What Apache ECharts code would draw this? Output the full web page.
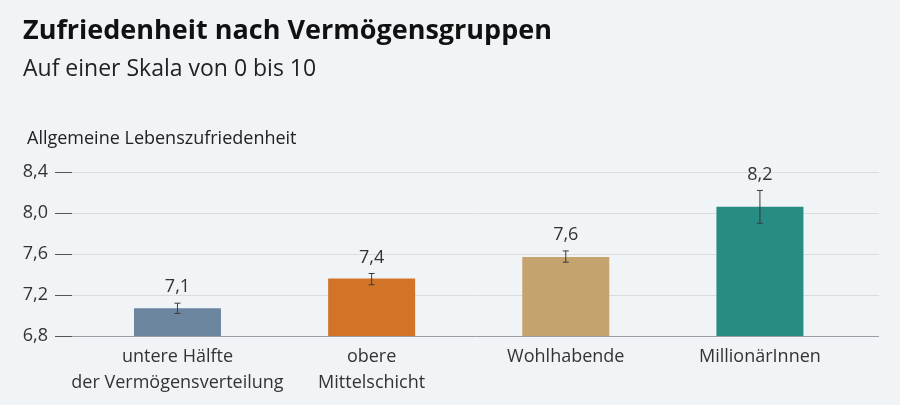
<!DOCTYPE html>
<html>
<head>
<meta charset="utf-8">
<script src="https://cdn.jsdelivr.net/npm/echarts@6/dist/echarts.min.js"></script>
<style>
html,body{margin:0;padding:0;background:#f1f4f6;}
#chart{width:900px;height:405px;}
</style>
</head>
<body>
<div id="chart"></div>
<script>
var categories = ['untere Hälfte\nder Vermögensverteilung', 'obere\nMittelschicht', 'Wohlhabende', 'MillionärInnen'];
var values = [7.07, 7.36, 7.57, 8.06];
var errLow = [7.02, 7.30, 7.52, 7.90];
var errHigh = [7.12, 7.41, 7.63, 8.22];
var valueLabels = ['7,1', '7,4', '7,6', '8,2'];
var barColors = ['#6d869f', '#d27428', '#c5a36f', '#278c84'];
var yMin = 6.8, yMax = 8.4, yInterval = 0.4;

var FONT = '"Open Sans", "Noto Sans", sans-serif';
var chart = echarts.init(document.getElementById('chart'), null, {renderer: 'canvas'});

var errData = categories.map(function (c, i) { return [i, errLow[i], errHigh[i]]; });

var option = {
  backgroundColor: '#f1f4f6',
  animation: false,
  title: [{
    text: 'Zufriedenheit nach Vermögensgruppen',
    left: 18, top: 13,
    textStyle: {fontFamily: FONT, fontWeight: 'bold', fontSize: 27, color: '#111'}
  }, {
    text: 'Auf einer Skala von 0 bis 10',
    left: 18, top: 53,
    textStyle: {fontFamily: FONT, fontWeight: 'normal', fontSize: 23, color: '#222'}
  }, {
    text: 'Allgemeine Lebenszufriedenheit',
    left: 22, top: 125,
    textStyle: {fontFamily: FONT, fontWeight: 'normal', fontSize: 18, color: '#222'}
  }],
  grid: [
    {left: 72, right: 21, top: 172, bottom: 69},
    {left: 80.4, right: 43, top: 172, bottom: 69}
  ],
  xAxis: [
    {type: 'value', gridIndex: 0, show: false, min: 0, max: 1},
    {
      type: 'category', gridIndex: 1, data: categories,
      axisLine: {show: false}, axisTick: {show: false},
      axisLabel: {interval: 0, margin: 8, fontFamily: FONT, fontSize: 18, color: '#333', lineHeight: 26}
    }
  ],
  yAxis: [
    {
      type: 'value', gridIndex: 0, min: yMin, max: yMax, interval: yInterval,
      axisLine: {show: false},
      axisTick: {show: true, length: 17, lineStyle: {color: '#555', width: 1}},
      axisLabel: {margin: 24, fontFamily: FONT, fontSize: 18, color: '#333',
        formatter: function (v) { return v.toFixed(1).replace('.', ','); }},
      splitLine: {show: true, lineStyle: {color: ['#9a9ea2', '#d9dde0', '#d9dde0', '#d9dde0', '#d9dde0'], width: 1}}
    },
    {type: 'value', gridIndex: 1, min: yMin, max: yMax, interval: yInterval, show: false, splitLine: {show: false}}
  ],
  series: [
    {
      type: 'bar', xAxisIndex: 1, yAxisIndex: 1, barWidth: 87,
      data: values.map(function (v, i) {
        return {value: v, itemStyle: {color: barColors[i]}};
      })
    },
    {
      type: 'custom', xAxisIndex: 1, yAxisIndex: 1, z: 10,
      data: errData,
      renderItem: function (params, api) {
        var i = api.value(0);
        var lo = api.coord([i, api.value(1)]);
        var hi = api.coord([i, api.value(2)]);
        var cap = 3;
        var col = '#3a3a3a';
        return {
          type: 'group',
          children: [
            {type: 'line', shape: {x1: hi[0], y1: hi[1], x2: lo[0], y2: lo[1]}, style: {stroke: col, lineWidth: 1}},
            {type: 'line', shape: {x1: hi[0] - cap, y1: hi[1], x2: hi[0] + cap, y2: hi[1]}, style: {stroke: col, lineWidth: 1}},
            {type: 'line', shape: {x1: lo[0] - cap, y1: lo[1], x2: lo[0] + cap, y2: lo[1]}, style: {stroke: col, lineWidth: 1}},
            {type: 'text', x: hi[0], y: hi[1] - 7,
              style: {text: valueLabels[i], x: 0, y: 0, align: 'center', verticalAlign: 'bottom',
                fontFamily: FONT, fontSize: 18, fill: '#333'}}
          ]
        };
      }
    }
  ]
};
chart.setOption(option);
</script>
</body>
</html>
